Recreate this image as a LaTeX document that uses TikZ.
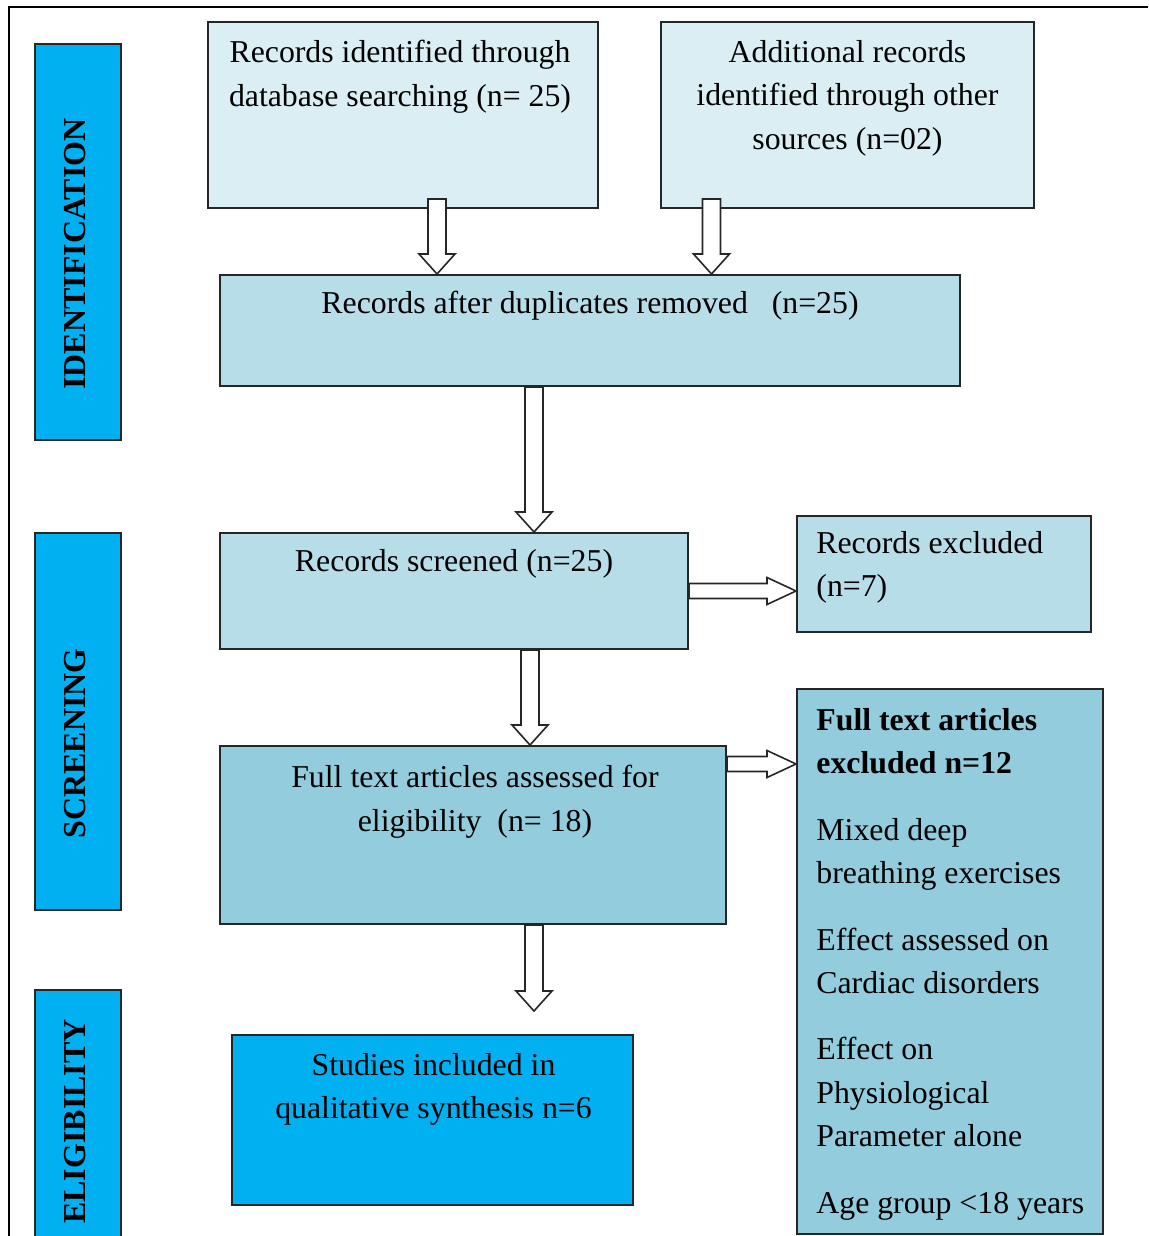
\documentclass[tikz,border=0pt]{standalone}
\usepackage{fontspec}
\setmainfont{Liberation Serif}
\usetikzlibrary{calc,fit}

\definecolor{paleblue}{HTML}{DBEEF3}
\definecolor{midblue}{HTML}{B7DEE8}
\definecolor{deepblue}{HTML}{93CDDD}
\definecolor{cyanblue}{HTML}{00B0F0}

\tikzset{
  box/.style={draw=black!85, line width=1pt, inner sep=0pt},
  stage/.style={box, fill=cyanblue},
  boxtext/.style={inner sep=0pt, font=\fontsize{15.9}{21.7}\selectfont, align=center, anchor=north},
  lefttext/.style={boxtext, align=left, anchor=north west},
  stagetext/.style={inner sep=0pt, font=\fontsize{16}{18}\selectfont\bfseries, rotate=90},
  hollowarrow/.style={draw=black!85, fill=white, line width=0.8pt, line join=miter},
}

% hollow block arrows: from a point down to the y of a target, or right to the x of a target
\newcommand\vblock[2]{%
  \draw[hollowarrow] let \p1=(#1), \p2=(#2) in
    (\x1-4.5pt,\y1) -- (\x1-4.5pt,\y2+10pt) -- (\x1-9pt,\y2+10pt) -- (\x1,\y2)
    -- (\x1+9pt,\y2+10pt) -- (\x1+4.5pt,\y2+10pt) -- (\x1+4.5pt,\y1) -- cycle;}
\newcommand\hblock[2]{%
  \draw[hollowarrow] let \p1=(#1), \p2=(#2) in
    (\x1,\y1+3.75pt) -- (\x2-14.5pt,\y1+3.75pt) -- (\x2-14.5pt,\y1+6.75pt) -- (\x2,\y1)
    -- (\x2-14.5pt,\y1-6.75pt) -- (\x2-14.5pt,\y1-3.75pt) -- (\x1,\y1-3.75pt) -- cycle;}

\begin{document}
\begin{tikzpicture}[x=0.5pt, y=-0.5pt]
\useasboundingbox (0,0) rectangle (1148,1236);

% frame
\draw[line width=1.2pt] (9,1236) -- (9,7) -- (1148,7);

% stage labels
\node[stage, fit={(35,44) (121,440)}] (idlab) {};
\node[stage, fit={(35,533) (121,910)}] (scrlab) {};
\node[stage, fit={(35,990) (121,1245)}] (elilab) {};
\node[stagetext] at ($(idlab.center)+(-3,12)$) {IDENTIFICATION};
\node[stagetext] at ($(scrlab.center)+(-3,22)$) {SCREENING};
\node[stagetext] at ($(elilab.center)+(-3,4)$) {ELIGIBILITY};

% boxes
\node[box, fill=paleblue, fit={(208,22) (598,208)}] (dbrec) {};
\node[box, fill=paleblue, fit={(661,22) (1034,208)}] (otherrec) {};
\node[box, fill=midblue, fit={(220,275) (960,386)}] (dedup) {};
\node[box, fill=midblue, fit={(220,533) (688,649)}] (screened) {};
\node[box, fill=midblue, fit={(797,516) (1091,632)}] (excl) {};
\node[box, fill=deepblue, fit={(220,746) (726,924)}] (fulltext) {};
\node[box, fill=deepblue, fit={(797,689) (1103,1234)}] (fullexcl) {};
\node[box, fill=cyanblue, fit={(232,1035) (633,1205)}] (included) {};

% texts
\node[boxtext] (dbrec-t) at ($(dbrec.north)+(-3,19)$) {Records identified through\\database searching (n= 25)};
\node[boxtext] (otherrec-t) at ($(otherrec.north)+(0,19)$) {Additional records\\identified through other\\sources (n=02)};
\node[boxtext] (dedup-t) at ($(dedup.north)+(0,17)$) {Records after duplicates removed\ \ \ (n=25)};
\node[boxtext] (screened-t) at ($(screened.north)+(0,17)$) {Records screened (n=25)};
\node[lefttext] (excl-t) at ($(excl.north west)+(20,16)$) {Records excluded\\(n=7)};
\node[boxtext] (fulltext-t) at ($(fulltext.north)+(2,20)$) {Full text articles assessed for\\eligibility\ \ (n= 18)};
\node[lefttext] (fullexcl-t) at ($(fullexcl.north west)+(20,20)$)
  {\textbf{Full text articles}\\\textbf{excluded n=12}\\[11.5pt]
   Mixed deep\\breathing exercises\\[11.5pt]
   Effect assessed on\\Cardiac disorders\\[11.5pt]
   Effect on\\Physiological\\Parameter alone\\[11.5pt]
   Age group <18 years};
\node[boxtext] (included-t) at ($(included.north)+(1,19)$) {Studies included in\\qualitative synthesis n=6};

% arrows
\vblock{$(dbrec.south)+(34,-10)$}{dedup.north}
\vblock{$(otherrec.south)+(-136,-10)$}{dedup.north}
\vblock{$(dedup.south)+(-56,0)$}{screened.north}
\vblock{$(screened.south)+(76,0)$}{fulltext.north}
\vblock{$(fulltext.south)+(61,0)$}{$(included.north)+(0,-23)$}
\hblock{screened.east}{excl.west}
\hblock{$(fulltext.north east)+(0,19)$}{fullexcl.west}
\end{tikzpicture}
\end{document}
